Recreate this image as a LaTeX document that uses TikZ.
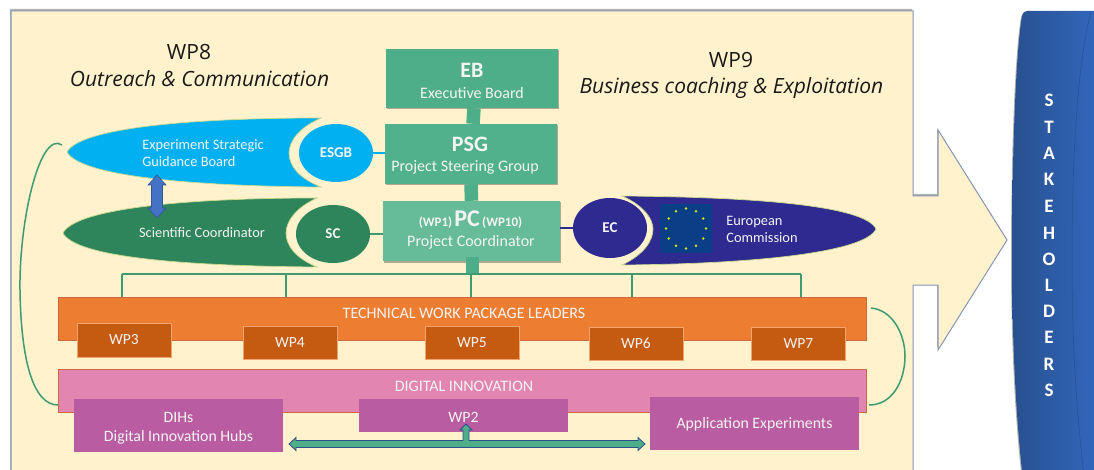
\documentclass[tikz,border=0pt]{standalone}
\usepackage{fontspec}
\setmainfont{Carlito}
\newfontfamily\headfont{Open Sans}
\usetikzlibrary{shapes.arrows,shapes.geometric,shadows,calc}
\definecolor{bgfill}{HTML}{FFF2CC}
\definecolor{bgline}{HTML}{8497B8}
\definecolor{ebcol}{HTML}{4FAE8A}
\definecolor{pscol}{HTML}{52B18D}
\definecolor{pccol}{HTML}{66BB99}
\definecolor{linkgreen}{HTML}{3E9A70}
\definecolor{cyanb}{HTML}{00B0F0}
\definecolor{greenb}{HTML}{2E855B}
\definecolor{navyb}{HTML}{2E2A90}
\definecolor{orangeb}{HTML}{ED7D31}
\definecolor{orangeD}{HTML}{C55A11}
\definecolor{pinkb}{HTML}{E285B0}
\definecolor{purpleb}{HTML}{BA5CA1}
\definecolor{offwhite}{HTML}{F4F4F4}
\definecolor{stakeL}{HTML}{28508F}
\definecolor{stakeR}{HTML}{3268BE}
\definecolor{flagb}{HTML}{0A3F88}
\definecolor{blobline}{HTML}{C9D98E}
\definecolor{arrowblue}{HTML}{4472C4}
\tikzset{
  softshadow/.style={drop shadow={shadow xshift=1pt,shadow yshift=-1.5pt,opacity=.3,fill=black}},
  govbox/.style={draw=none,inner sep=0pt,text=offwhite,align=center,softshadow},
  wpbox/.style={draw=orangeb!70!white,line width=.5pt,fill=orangeD,inner sep=0pt,minimum width=94pt,minimum height=33pt,text=offwhite,font=\fontsize{15.5}{17}\selectfont},
  band/.style={draw=orangeD!70!pinkb,line width=.7pt,inner sep=0pt,minimum width=808pt,minimum height=43pt},
  dihbox/.style={fill=purpleb,draw=none,inner sep=0pt},
  dihtext/.style={inner sep=0pt,text=offwhite,align=center,font=\fontsize{15.8}{19}\selectfont},
  blob/.style={draw=blobline,line width=.7pt},
  oval/.style={draw=none,shape=ellipse,inner sep=0pt,minimum width=74pt,minimum height=58pt,text=offwhite,font=\bfseries\fontsize{15}{17}\selectfont},
  lbl/.style={inner sep=0pt,text=offwhite,align=left,font=\fontsize{14.4}{17}\selectfont},
  trunk/.style={line width=13.5pt,draw=ebcol},
  bus/.style={draw=linkgreen,line width=1.5pt},
  head/.style={inner sep=0pt,font=\headfont\fontsize{21}{24}\selectfont,text=black!90},
  headit/.style={inner sep=0pt,font=\headfont\itshape\fontsize{21}{24}\selectfont,text=black!90},
  big/.style={inner sep=0pt,text=offwhite,font=\bfseries\fontsize{22}{24}\selectfont},
  sub/.style={inner sep=0pt,text=offwhite,font=\fontsize{16}{18}\selectfont}
}
\begin{document}
\begin{tikzpicture}[x=1pt,y=-1pt]
\useasboundingbox (0,0) rectangle (1094,470);
\clip (0,0) rectangle (1094,470);
\fill[white] (0,0) rectangle (1094,470);
% big arrow
\path[fill=bgfill,draw=bgline,line width=1pt,drop shadow={shadow xshift=-1pt,shadow yshift=2pt,opacity=.3,fill=black}]
  (11,11) -- (913,11) -- (913,196) -- (938,196) -- (938,130) -- (1007,240) -- (938,350) -- (938,285) -- (913,285) -- (913,480) -- (11,480) -- cycle;
% stakeholders
\path[left color=stakeL,right color=stakeR,drop shadow={shadow xshift=-1pt,shadow yshift=-1pt,opacity=.3,fill=black}]
  (1027,11) .. controls (1024,11) and (1023,13) .. (1022,16) .. controls (1016,50) and (1012,150) .. (1012,260) .. controls (1012,340) and (1016,420) .. (1023,480) -- (1100,480) -- (1100,11) -- cycle;
\draw[stakeL,line width=.5pt] (1091,12) .. controls (1078,60) and (1072,150) .. (1072,260) .. controls (1072,340) and (1076,410) .. (1084,475);
\foreach \c/\yy in {S/100,T/127,A/153,K/179,E/206,H/233,O/259,L/285,D/311,E/337,R/364,S/390}
  \node[inner sep=0pt,text=white,font=\bfseries\fontsize{19}{19}\selectfont] at (1049,\yy) {\c};
% headings
\node[head] (wp8) at (189,52) {WP8};
\node[headit] (wp8t) at (199.5,79) {Outreach \& Communication};
\node[head] (wp9) at (731,60) {WP9};
\node[headit] (wp9t) at (731.5,88) {Business coaching \& Exploitation};
% curved brackets
\coordinate (arcLa) at (62,145);
\coordinate (arcLb) at (58,405);
\coordinate (arcRa) at (871,308);
\coordinate (arcRb) at (869,405);
\draw[bus] (arcLa) .. controls (40,130) and (19,220) .. (20,290) .. controls (21,360) and (33,405) .. (arcLb);
\draw[bus] (arcRa) .. controls (893,310) and (905,335) .. (905,356) .. controls (905,380) and (893,405) .. (arcRb);
% bus
\coordinate (busL) at (122,274);
\coordinate (busR) at (801,274);
% governance boxes and trunk links
\node[govbox,fill=ebcol,minimum width=172pt,minimum height=59pt] (eb) at (472,78.5) {};
\node[govbox,fill=pscol,minimum width=172pt,minimum height=60pt] (psg) at (471,154) {};
\node[govbox,fill=pccol,minimum width=177pt,minimum height=60pt] (pc) at (471.5,231) {};
\draw[trunk] ([xshift=2pt]eb.south) -- ([xshift=2pt]psg.north);
\draw[trunk] ([xshift=0pt]psg.south) -- ([xshift=0pt]pc.north);
\draw[trunk] ([xshift=1pt,yshift=4pt]pc.south) -- ([xshift=1pt,yshift=-14pt]pc.south);
\draw[bus] (busL) -- (busR);
\node[big] at (472,70) {EB};
\node[sub] at (472,93) {Executive Board};
\node[big] at (470,144) {PSG};
\node[sub] at (465,167) {Project Steering Group};
\node[inner sep=0pt,text=offwhite] at (470.5,220) {{\bfseries\fontsize{13}{14}\selectfont (WP1)} {\bfseries\fontsize{24}{26}\selectfont PC} {\bfseries\fontsize{13}{14}\selectfont (WP10)}};
\node[sub] at (471,242) {Project Coordinator};
% ESGB
\path[fill=cyanb,blob] (67,152) .. controls (80,128) and (190,118) .. (321,118) .. controls (298,128) and (289,142) .. (289,153) .. controls (289,165) and (298,178) .. (321,187) .. controls (190,186) and (80,176) .. (67,152) -- cycle;
\node[lbl] (esgbl) at (203,153.5) {Experiment Strategic\\Guidance Board};
\node[oval,fill=cyanb] (esgb) at (336,153) {ESGB};
\draw[cyanb,line width=1.5pt] (esgb.east) -- (esgb.east -| psg.west);
% SC
\path[fill=greenb,blob] (63,233) .. controls (76,208) and (190,198) .. (317,198) .. controls (295,208) and (286,222) .. (286,233) .. controls (286,245) and (295,258) .. (317,267) .. controls (190,266) and (76,258) .. (63,233) -- cycle;
\node[lbl] (scl) at (202,233) {Scientific Coordinator};
\node[oval,fill=greenb] (sc) at (333,234) {SC};
\draw[linkgreen,line width=1.2pt] (sc.east) -- (sc.east -| pc.west);
% blue double arrow
\path[fill=arrowblue,draw=black!25!arrowblue,line width=.6pt]
  (157,175) -- (166,185) -- (162.5,185) -- (162.5,208) -- (166,208) -- (157,218) -- (148,208) -- (151.5,208) -- (151.5,185) -- (148,185) -- cycle;
% EC
\path[fill=navyb,blob] (622,196) .. controls (645,206) and (653,220) .. (653,229) .. controls (653,240) and (645,254) .. (622,265) .. controls (750,264) and (865,253) .. (876,229) .. controls (865,205) and (750,197) .. (622,196) -- cycle;
\node[oval,fill=navyb,minimum height=60pt] (ec) at (610,228) {EC};
\draw[navyb,line width=1.5pt] (ec.west) -- (ec.west -| pc.east);
\node[fill=flagb,inner sep=0pt,minimum width=52pt,minimum height=49pt] (flag) at (686,228.5) {};
\foreach \a in {0,30,...,330}
  \fill[yellow!85!green] ($(flag.center)+(\a:20pt)$) circle (1.4pt);
\node[lbl] (ecl) at (762,229) {European\\Commission};
% bands
\node[band,fill=orangeb] (tw) at (462,318.5) {};
\node[sub] (twl) at (464,313) {TECHNICAL WORK PACKAGE LEADERS};
\foreach \xx in {122,286,471,632,801}
  \draw[linkgreen,line width=1.2pt] (\xx,274) -- (\xx,297);
\node[wpbox,minimum height=34pt] (wp3) at (124,340) {WP3};
\node[wpbox] (wp4) at (290,342.5) {WP4};
\node[wpbox] (wp5) at (472,342.5) {WP5};
\node[wpbox] (wp6) at (636,343.5) {WP6};
\node[wpbox] (wp7) at (798.5,343.5) {WP7};
\node[band,fill=pinkb] (di) at (462,390.5) {};
\node[sub] (dil) at (464,386) {DIGITAL INNOVATION};
\node[dihbox,minimum width=209pt,minimum height=53pt] (dih) at (178.5,425.5) {};
\node[dihtext] at ([yshift=-2.5pt]dih.center) {DIHs\\Digital Innovation Hubs};
\node[dihbox,minimum width=209pt,minimum height=33pt] (wp2) at (463.5,415.5) {};
\node[dihtext] at ([yshift=-1.5pt]wp2.center) {WP2};
\node[dihbox,minimum width=209pt,minimum height=53pt] (app) at (754.5,423.5) {};
\node[dihtext] at ([yshift=-1pt]app.center) {Application Experiments};
% teal arrow
\path[fill=ebcol,draw=black!30!arrowblue,line width=.8pt]
  (289,444) -- (296,437.5) -- (296,440.5) -- (463,440.5) -- (463,430) -- (460,430) -- (466,424) -- (472,430) -- (469,430) -- (469,440.5) -- (638,440.5) -- (638,437.5) -- (645,444) -- (638,450.5) -- (638,447.5) -- (296,447.5) -- (296,450.5) -- cycle;
\end{tikzpicture}
\end{document}
